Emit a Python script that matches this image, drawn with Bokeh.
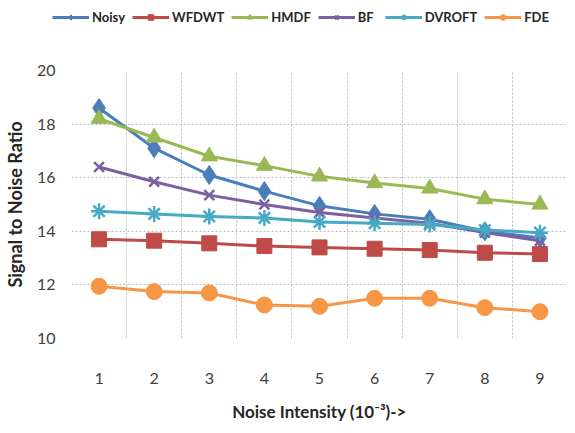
from bokeh.plotting import figure
from bokeh.models import FixedTicker, Legend, LegendItem
from bokeh.layouts import column, row
from bokeh.embed import file_html
from bokeh.resources import INLINE

x_vals = [1, 2, 3, 4, 5, 6, 7, 8, 9]
noisy = [18.6, 17.1, 16.1, 15.5, 14.95, 14.65, 14.45, 14.0, 13.75]
wfdwt = [13.7, 13.65, 13.55, 13.45, 13.4, 13.35, 13.3, 13.2, 13.15]
hmdf = [18.2, 17.5, 16.8, 16.45, 16.05, 15.8, 15.6, 15.2, 15.0]
bf = [16.4, 15.85, 15.35, 15.0, 14.7, 14.5, 14.3, 13.95, 13.65]
dvroft = [14.75, 14.65, 14.55, 14.5, 14.35, 14.3, 14.25, 14.05, 13.95]
fde = [11.95, 11.75, 11.7, 11.25, 11.2, 11.5, 11.5, 11.15, 11.0]
y_ticks = [10, 12, 14, 16, 18, 20]

series = [
    ("Noisy", noisy, "#4A7EBB", "diamond", 19),
    ("WFDWT", wfdwt, "#BE4B48", "square", 15),
    ("HMDF", hmdf, "#98B954", "triangle", 16),
    ("BF", bf, "#7D60A0", "x", 14),
    ("DVROFT", dvroft, "#46AAC5", "asterisk", 16),
    ("FDE", fde, "#F79646", "circle", 16),
]


def add_series(fig, name, ys, color, marker, size, lw=3, ms_scale=1.0):
    r1 = fig.line(x_vals, ys, line_color=color, line_width=lw)
    s = size * ms_scale
    if marker in ("x", "asterisk"):
        r2 = fig.scatter(x_vals, ys, marker=marker, size=s, line_color=color, line_width=2.5)
    else:
        r2 = fig.scatter(x_vals, ys, marker=marker, size=s, fill_color=color, line_color=color)
    return r1, r2


# main chart
p = figure(frame_width=496, frame_height=268, x_range=(0.5, 9.5), y_range=(10, 20),
           output_backend="svg", toolbar_location=None,
           min_border_left=64, min_border_right=0, min_border_top=36, min_border_bottom=79)
p.outline_line_color = None
for name, ys, color, marker, size in series:
    add_series(p, name, ys, color, marker, size)

p.xaxis.ticker = FixedTicker(ticks=x_vals)
p.yaxis.ticker = FixedTicker(ticks=y_ticks)
p.xgrid.ticker = FixedTicker(ticks=[0.5 + i for i in range(10)])
p.ygrid.ticker = FixedTicker(ticks=y_ticks)
for g in (p.xgrid, p.ygrid):
    g.grid_line_color = "#BBBBBB"
    g.grid_line_dash = "2 2"
    g.grid_line_width = 1

for ax in (p.xaxis, p.yaxis):
    ax.axis_line_color = None
    ax.major_tick_line_color = None
    ax.minor_tick_line_color = None
    ax.major_label_text_font = "Lato"
    ax.major_label_text_font_size = "16px"
    ax.major_label_text_color = "#404040"
    ax.axis_label_text_font = "Lato"
    ax.axis_label_text_color = "#262626"

p.xaxis.major_label_standoff = 28
p.xaxis.axis_label = "Noise Intensity (10\u207b\u00b3)->"
p.xaxis.axis_label_text_font_size = "17px"
p.xaxis.axis_label_text_font_style = "bold"
p.xaxis.axis_label_standoff = 14

p.yaxis.major_label_standoff = 10
p.yaxis.axis_label = "Signal to Noise Ratio"
p.yaxis.axis_label_text_font_size = "18px"
p.yaxis.axis_label_text_font_style = "bold"
p.yaxis.axis_label_standoff = 8

# legend strip
lg = figure(width=560, height=34, x_range=(100, 101), y_range=(100, 101),
            output_backend="svg", toolbar_location=None, min_border=0)
lg.axis.visible = False
lg.grid.visible = False
lg.outline_line_color = None
items = []
for name, ys, color, marker, size in series:
    r1, r2 = add_series(lg, name, ys, color, marker, size, lw=3, ms_scale=0.6)
    items.append(LegendItem(label=name, renderers=[r1, r2]))
legend = Legend(items=items, orientation="horizontal", location=(52, 9),
                label_text_font="Lato", label_text_font_size="13px",
                label_text_font_style="bold", label_text_color="#262626",
                glyph_width=37, glyph_height=14, spacing=7, label_standoff=3,
                padding=0, margin=0, border_line_color=None, background_fill_alpha=0)
lg.add_layout(legend, "center")

layout = column(row(lg), p, spacing=0)
open("out.html", "w").write(file_html(layout, INLINE))
